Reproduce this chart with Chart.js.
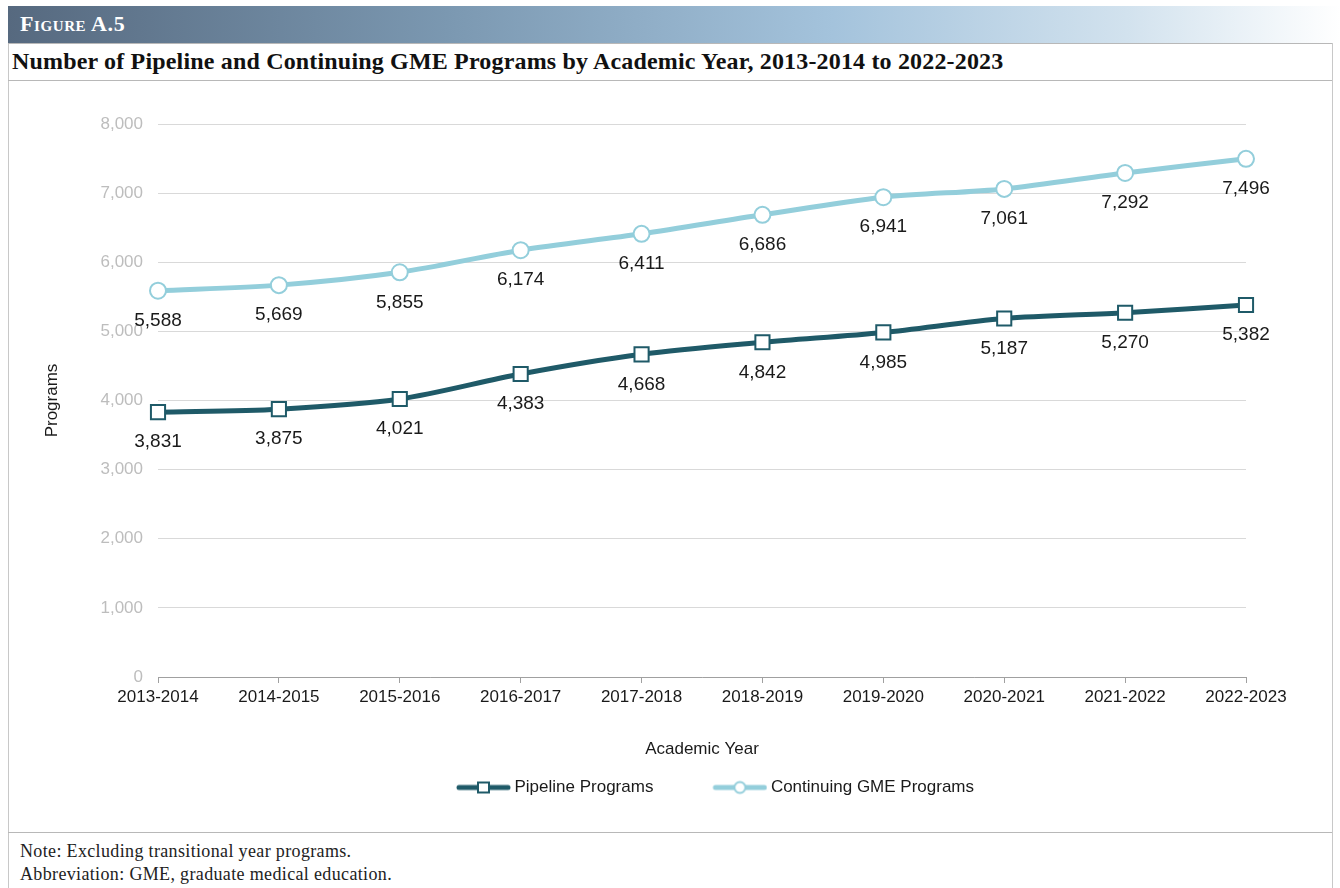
<!DOCTYPE html>
<html>
<head>
<meta charset="utf-8">
<script src="https://cdn.jsdelivr.net/npm/chart.js@4.4.1/dist/chart.umd.min.js"></script>
<style>
  html, body { margin: 0; padding: 0; background: #fff; }
  body { width: 1340px; height: 888px; position: relative; overflow: hidden; }
  .bar {
    position: absolute; left: 8px; top: 6px; width: 1332px; height: 37px;
    background: linear-gradient(to right, #56697f 0%, #7b98b1 33%, #a4c3dc 62%, #d2e2ee 84%, #ffffff 100%);
  }
  .bar span {
    position: absolute; left: 12px; top: 5px; color: #fff; letter-spacing: 0.6px;
    font: bold 22px "Liberation Serif", "DejaVu Serif", serif; font-variant: small-caps;
  }
  .frame {
    position: absolute; left: 8px; top: 43px; width: 1323px; height: 850px;
    border-left: 1px solid #c8c8c8; border-right: 1px solid #c8c8c8;
  }
  .title {
    position: absolute; left: 8px; top: 43px; width: 1324px; height: 36px;
    border-top: 1px solid #b8b8b8; border-bottom: 1px solid #b8b8b8;
  }
  .title span {
    position: absolute; left: 4px; top: 4px; color: #111; letter-spacing: 0.17px;
    font: bold 24px "Liberation Serif", "DejaVu Serif", serif;
  }
  .foot {
    position: absolute; left: 8px; top: 832px; width: 1324px; height: 56px;
    border-top: 1px solid #b8b8b8;
    font: 18px "Liberation Serif", "DejaVu Serif", serif; color: #222; letter-spacing: 0.35px;
  }
  .foot div { position: absolute; left: 12px; }
  canvas { position: absolute; left: 9px; top: 81px; }
</style>
</head>
<body>
<div class="bar"><span>Figure A.5</span></div>
<div class="frame"></div>
<div class="title"><span>Number of Pipeline and Continuing GME Programs by Academic Year, 2013-2014 to 2022-2023</span></div>
<canvas id="chart" width="1322" height="751"></canvas>
<div class="foot">
  <div style="top:8px">Note: Excluding transitional year programs.</div>
  <div style="top:31px">Abbreviation: GME, graduate medical education.</div>
</div>
<script>
const years = ["2013-2014", "2014-2015", "2015-2016", "2016-2017", "2017-2018",
  "2018-2019", "2019-2020", "2020-2021", "2021-2022", "2022-2023"];
const pipeline = [3831, 3875, 4021, 4383, 4668, 4842, 4985, 5187, 5270, 5382];
const continuing = [5588, 5669, 5855, 6174, 6411, 6686, 6941, 7061, 7292, 7496];
const yTicks = [0, 1000, 2000, 3000, 4000, 5000, 6000, 7000, 8000];

const DARK = "#1f5a68";
const LIGHT = "#93cedb";
const FONT = "'Liberation Sans', Arial, sans-serif";

// legend swatch: thick line with the marker in the middle.
// The image is wider than the legend box so the line sits right against the text.
function swatch(color, shape) {
  const c = document.createElement("canvas");
  c.width = 104; c.height = 16;
  const g = c.getContext("2d");
  g.strokeStyle = color;
  g.lineCap = "round";
  g.lineWidth = 5;
  g.beginPath(); g.moveTo(52, 8); g.lineTo(101, 8); g.stroke();
  g.lineWidth = 2;
  g.fillStyle = "#fff";
  if (shape === "rect") {
    g.fillRect(71, 3, 11, 10); g.strokeRect(71, 3, 11, 10);
  } else {
    g.beginPath(); g.arc(76.5, 8, 5.5, 0, Math.PI * 2); g.fill(); g.stroke();
  }
  return c;
}

const fmt = (v) => v.toLocaleString("en-US");

const valueLabels = {
  id: "valueLabels",
  afterDatasetsDraw(chart) {
    const ctx = chart.ctx;
    ctx.save();
    ctx.font = "19px " + FONT;
    ctx.fillStyle = "#1a1a1a";
    ctx.textAlign = "center";
    ctx.textBaseline = "middle";
    chart.data.datasets.forEach((ds, i) => {
      chart.getDatasetMeta(i).data.forEach((pt, j) => {
        ctx.fillText(fmt(ds.data[j]), pt.x, pt.y + 30);
      });
    });
    ctx.restore();
  }
};

// nudge the legend a little to the left, like the original
const legendNudge = {
  id: "legendNudge",
  afterLayout(chart) {
    chart.legend.left -= 9;
    chart.legend.right -= 9;
  }
};

new Chart(document.getElementById("chart"), {
  type: "line",
  data: {
    labels: years,
    datasets: [
      {
        label: "Pipeline Programs",
        data: pipeline,
        borderColor: DARK,
        borderWidth: 5,
        tension: 0.3,
        pointStyle: "rect",
        pointRadius: 10,
        pointBorderWidth: 2,
        pointBackgroundColor: "#fff",
        pointBorderColor: DARK,
        legendSwatch: swatch(DARK, "rect")
      },
      {
        label: "Continuing GME Programs",
        data: continuing,
        borderColor: LIGHT,
        borderWidth: 5,
        tension: 0.3,
        pointStyle: "circle",
        pointRadius: 8,
        pointBorderWidth: 2,
        pointBackgroundColor: "#fff",
        pointBorderColor: LIGHT,
        legendSwatch: swatch(LIGHT, "circle")
      }
    ]
  },
  options: {
    responsive: false,
    animation: false,
    devicePixelRatio: 1,
    layout: { padding: { left: 29, right: 85, top: 43, bottom: 26 } },
    plugins: {
      tooltip: { enabled: false },
      legend: {
        position: "bottom",
        fullSize: false,
        labels: {
          usePointStyle: true,
          pointStyleWidth: 94,
          padding: 15,
          color: "#1a1a1a",
          font: { family: FONT, size: 17 },
          generateLabels: (chart) => chart.data.datasets.map((ds, i) => ({
            text: ds.label,
            pointStyle: ds.legendSwatch,
            datasetIndex: i,
            fontColor: "#1a1a1a",
            lineWidth: 0
          }))
        }
      }
    },
    scales: {
      x: {
        offset: false,
        afterFit: (s) => { s.height = 87; },
        border: { color: "#a0a0a0", width: 1 },
        grid: { drawOnChartArea: false, drawTicks: true, tickLength: 6, color: "#a0a0a0" },
        ticks: { color: "#1a1a1a", font: { family: FONT, size: 17 }, padding: 4, maxRotation: 0, autoSkip: false },
        title: { display: true, text: "Academic Year", color: "#1a1a1a", font: { family: FONT, size: 17 } }
      },
      y: {
        min: 0,
        max: 8000,
        afterFit: (s) => { s.width = 120; },
        afterBuildTicks: (s) => { s.ticks = yTicks.map((v) => ({ value: v })); },
        border: { display: false },
        grid: { color: "#d9d9d9", lineWidth: 1, drawTicks: false },
        ticks: { color: "#bdbdbd", font: { family: FONT, size: 17 }, padding: 15, callback: (v) => fmt(v) },
        title: { display: true, text: "Programs", color: "#1a1a1a", font: { family: FONT, size: 17 } }
      }
    }
  },
  plugins: [valueLabels, legendNudge]
});
</script>
</body>
</html>
